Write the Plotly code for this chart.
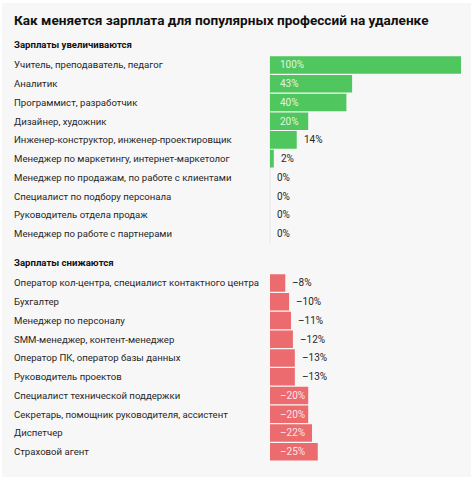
import plotly.graph_objects as go

title = "Как меняется зарплата для популярных профессий на удаленке"
up_header = "Зарплаты увеличиваются"
down_header = "Зарплаты снижаются"

up_labels = [
    "Учитель, преподаватель, педагог",
    "Аналитик",
    "Программист, разработчик",
    "Дизайнер, художник",
    "Инженер-конструктор, инженер-проектировщик",
    "Менеджер по маркетингу, интернет-маркетолог",
    "Менеджер по продажам, по работе с клиентами",
    "Специалист по подбору персонала",
    "Руководитель отдела продаж",
    "Менеджер по работе с партнерами",
]
up_values = [100, 43, 40, 20, 14, 2, 0, 0, 0, 0]

down_labels = [
    "Оператор кол-центра, специалист контактного центра",
    "Бухгалтер",
    "Менеджер по персоналу",
    "SMM-менеджер, контент-менеджер",
    "Оператор ПК, оператор базы данных",
    "Руководитель проектов",
    "Специалист технической поддержки",
    "Секретарь, помощник руководителя, ассистент",
    "Диспетчер",
    "Страховой агент",
]
down_values = [-8, -10, -11, -12, -13, -13, -20, -20, -22, -25]

W, H = 474, 480
GREEN = "#4fc65e"
RED = "#ec6b6f"
BG = "#f7f7f7"
FONT = "Roboto, sans-serif"
TXT = "#262626"

fig = go.Figure()
fig.add_trace(go.Bar(x=up_values, y=up_labels, orientation="h",
                     marker=dict(color=GREEN, line=dict(width=0)),
                     xaxis="x", yaxis="y", hoverinfo="skip"))
fig.add_trace(go.Bar(x=[abs(v) for v in down_values], y=down_labels, orientation="h",
                     marker=dict(color=RED, line=dict(width=0)),
                     xaxis="x2", yaxis="y2", hoverinfo="skip"))

def px_x(p):
    return p / W

def px_y(p):
    return 1 - p / H

x_dom = [px_x(270), px_x(461)]
annotations = []

def fmt(v):
    if v < 0:
        return "\u2013" + f"{abs(v)}%"
    return f"{v}%"

for labels, values, xr, yr in [(up_labels, up_values, "x", "y"),
                               (down_labels, down_values, "x2", "y2")]:
    for lab, v in zip(labels, values):
        annotations.append(dict(x=px_x(12), xref="paper", y=lab, yref=yr,
                                text=lab, showarrow=False, xanchor="left",
                                font=dict(size=9.6, color=TXT, family=FONT)))
        mag = abs(v)
        if mag >= 20:
            annotations.append(dict(x=0, xref=xr, y=lab, yref=yr, text=fmt(v),
                                    showarrow=False, xanchor="left", xshift=8,
                                    font=dict(size=10, color="rgba(255,255,255,0.85)", family=FONT)))
        else:
            annotations.append(dict(x=mag, xref=xr, y=lab, yref=yr, text=fmt(v),
                                    showarrow=False, xanchor="left", xshift=5,
                                    font=dict(size=10, color=TXT, family=FONT)))

annotations.append(dict(x=px_x(12), xref="paper", y=px_y(20), yref="paper",
                        text="<b>" + title + "</b>", showarrow=False, xanchor="left",
                        yanchor="middle", font=dict(size=13.6, color="#111111", family=FONT)))
annotations.append(dict(x=px_x(12), xref="paper", y=px_y(44), yref="paper",
                        text="<b>" + up_header + "</b>", showarrow=False, xanchor="left",
                        yanchor="middle", font=dict(size=9.6, color="#111111", family=FONT)))
annotations.append(dict(x=px_x(12), xref="paper", y=px_y(262), yref="paper",
                        text="<b>" + down_header + "</b>", showarrow=False, xanchor="left",
                        yanchor="middle", font=dict(size=9.6, color="#111111", family=FONT)))

x0, y0, x1, y1 = px_x(2), px_y(477), px_x(471), px_y(3)
shapes = [dict(type="rect", xref="paper", yref="paper", x0=x0, y0=y0, x1=x1, y1=y1,
               fillcolor=BG, line=dict(width=0), layer="below")]
shapes.append(dict(type="line", xref="paper", yref="paper", x0=px_x(270), x1=px_x(270),
                   y0=px_y(243), y1=px_y(56), line=dict(color="#e6e6e6", width=1), layer="below"))

axis_common = dict(showgrid=False, zeroline=False, showticklabels=False, ticks="",
                   showline=False, fixedrange=True)

fig.update_layout(
    width=W, height=H, margin=dict(l=0, r=0, t=0, b=0),
    paper_bgcolor="white", plot_bgcolor="rgba(0,0,0,0)",
    showlegend=False, bargap=0.06,
    xaxis=dict(domain=x_dom, range=[0, 100], anchor="y", **axis_common),
    xaxis2=dict(domain=x_dom, range=[0, 100], anchor="y2", **axis_common),
    yaxis=dict(domain=[px_y(243), px_y(55.6)], autorange="reversed", anchor="x",
               type="category", **axis_common),
    yaxis2=dict(domain=[px_y(461.1), px_y(273.6)], autorange="reversed", anchor="x2",
                type="category", **axis_common),
    annotations=annotations, shapes=shapes,
)

fig.write_html("out.html")
